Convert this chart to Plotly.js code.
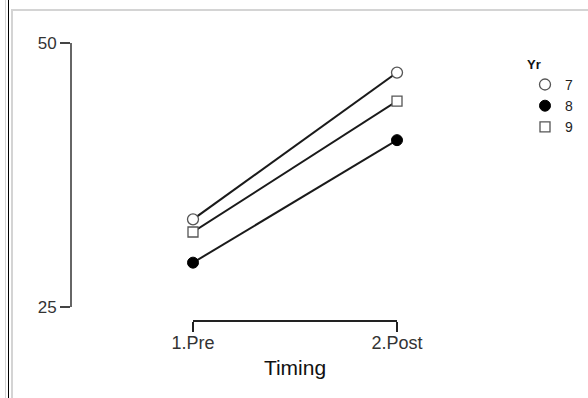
<!DOCTYPE html>
<html>
<head>
<meta charset="utf-8">
<script src="https://cdn.plot.ly/plotly-3.0.1.min.js"></script>
<style>
  html, body { margin: 0; padding: 0; background: #fff; }
  #wrap { position: relative; width: 588px; height: 398px; overflow: hidden; }
  #chart { position: absolute; left: 0; top: 0; width: 588px; height: 398px; }
  .deco { position: absolute; pointer-events: none; }
</style>
</head>
<body>
<div id="wrap">
  <div id="chart"></div>
  <div class="deco" style="left:5px;top:0;width:1px;height:398px;background:#d4d4d4;"></div>
  <div class="deco" style="left:8px;top:0;width:1px;height:398px;background:#000;"></div>
  <div class="deco" style="left:11px;top:9px;width:2px;height:389px;background:#d4d4d4;"></div>
  <div class="deco" style="left:11px;top:9px;width:577px;height:2px;background:#d4d4d4;"></div>
</div>
<script>
// Data
const timing = ['1.Pre', '2.Post'];
const timingPos = [1, 2];
const groups = ['7', '8', '9'];
const yr7 = [33.3, 47.2];
const yr8 = [29.2, 40.8];
const yr9 = [32.1, 44.5];

const seriesVals = [yr7, yr8, yr9];
const markerStyles = [
  {symbol: 'circle', size: 11, color: '#ffffff', line: {color: '#555555', width: 1.3}},
  {symbol: 'circle', size: 11, color: '#000000', line: {color: '#000000', width: 1}},
  {symbol: 'square', size: 10, color: '#ffffff', line: {color: '#555555', width: 1.3}}
];

const traces = [];
seriesVals.forEach((vals, i) => {
  traces.push({
    x: timingPos, y: vals, type: 'scatter', mode: 'lines',
    line: {color: '#1a1a1a', width: 2}, showlegend: false, hoverinfo: 'skip', cliponaxis: false
  });
});
seriesVals.forEach((vals, i) => {
  traces.push({
    x: timingPos, y: vals, type: 'scatter', mode: 'markers', name: groups[i],
    marker: markerStyles[i], cliponaxis: false
  });
});

// Layout geometry
const L = 71, R = 580, T = 43, B = 321;
const W = R - L, H = B - T;
const yBottomPx = 307;

const layout = {
  width: 588, height: 398,
  margin: {l: L, r: 588 - R, t: T, b: 398 - B, pad: 0, autoexpand: false},
  paper_bgcolor: 'rgba(0,0,0,0)',
  plot_bgcolor: 'rgba(0,0,0,0)',
  font: {family: 'Liberation Sans, Arial, sans-serif', color: '#222'},
  showlegend: true,
  xaxis: {
    domain: [(193 - L) / W, (397 - L) / W],
    anchor: 'free', position: 0,
    range: [1, 2],
    tickvals: timingPos, ticktext: timing,
    showline: true, linecolor: '#222', linewidth: 2,
    ticks: 'outside', ticklen: 10, tickwidth: 2, tickcolor: '#222',
    showgrid: false, zeroline: false,
    tickfont: {size: 18, color: '#333'},
    ticklabelstandoff: -5,
    automargin: false,
    title: {text: 'Timing', font: {size: 21, color: '#111'}, standoff: 8}
  },
  yaxis: {
    domain: [(B - yBottomPx) / H, 1],
    anchor: 'free', position: 0,
    range: [25, 50],
    tickvals: [25, 50],
    showline: true, linecolor: '#666', linewidth: 2,
    ticks: 'outside', ticklen: 10, tickwidth: 1.5, tickcolor: '#444',
    showgrid: false, zeroline: false,
    automargin: false,
    tickfont: {size: 17, color: '#333'}
  },
  legend: {
    x: (525 - L) / W, xanchor: 'left',
    y: (B - 52) / H, yanchor: 'top',
    bgcolor: 'rgba(0,0,0,0)',
    font: {size: 14, color: '#222'},
    title: {text: '<b>Yr</b>', font: {size: 13, color: '#111'}},
    itemwidth: 30,
    tracegroupgap: 0
  }
};

Plotly.newPlot('chart', traces, layout, {displayModeBar: false, staticPlot: true});
</script>
</body>
</html>
